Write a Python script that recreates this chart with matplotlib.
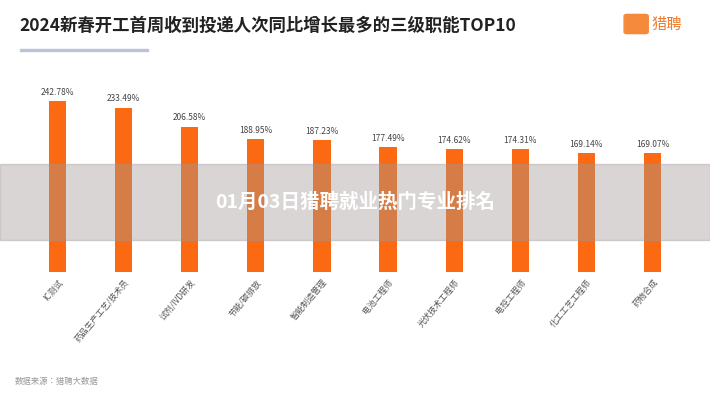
import matplotlib
matplotlib.use("Agg")
import matplotlib.pyplot as plt
from matplotlib.patches import Rectangle, FancyBboxPatch

plt.rcParams["font.family"] = ["Noto Sans CJK SC", "Noto Sans CJK JP", "Noto Sans CJK TC", "Noto Sans CJK KR", "DejaVu Sans"]

categories = ["IC测试", "药品生产工艺/技术员", "试剂/IVD研发", "节能/碳排放", "智能制造管理",
              "电池工程师", "光伏技术工程师", "电控工程师", "化工工艺工程师", "药物合成"]
values = [242.78, 233.49, 206.58, 188.95, 187.23, 177.49, 174.62, 174.31, 169.14, 169.07]
labels = [f"{v:.2f}%" for v in values]

fig = plt.figure(figsize=(7.1, 4.0), dpi=100)
fig.patch.set_facecolor("white")

ax = fig.add_axes([0.025, 0.32, 0.95, 0.493])
x = list(range(len(values)))
ax.bar(x, values, width=0.26, color="#fb6a12")
for xi, v, l in zip(x, values, labels):
    ax.text(xi, v + 6, l, ha="center", va="bottom", fontsize=6, color="#444444")
ax.set_ylim(0, 280)
ax.set_xlim(-0.6, 9.6)
ax.set_xticks(x)
ax.set_xticklabels(categories, rotation=50, ha="right", rotation_mode="anchor", fontsize=6, color="#555555")
ax.tick_params(length=0, pad=4)
ax.set_yticks([])
for s in ax.spines.values():
    s.set_visible(False)

fig.text(0.028, 0.935, "2024新春开工首周收到投递人次同比增长最多的三级职能TOP10",
         fontsize=12.5, fontweight="bold", color="#222222", va="center")
fig.add_artist(Rectangle((0.028, 0.872), 0.18, 0.005, transform=fig.transFigure, color="#b8c4d8"))
fig.add_artist(FancyBboxPatch((0.883, 0.92), 0.026, 0.04, boxstyle="round,pad=0.004",
                              transform=fig.transFigure, color="#f58a3c"))
fig.text(0.917, 0.94, "猎聘", fontsize=11, color="#f07a2a", va="center")
fig.text(0.02, 0.04, "数据来源：猎聘大数据", fontsize=6, color="#999999")

fig.add_artist(Rectangle((0, 0.40), 1, 0.19, transform=fig.transFigure,
                         color="#a09898", alpha=0.4, zorder=10))
fig.text(0.5, 0.495, "01月03日猎聘就业热门专业排名", fontsize=14, fontweight="bold",
         color="white", ha="center", va="center", zorder=11)

fig.savefig("out.png", dpi=100)
